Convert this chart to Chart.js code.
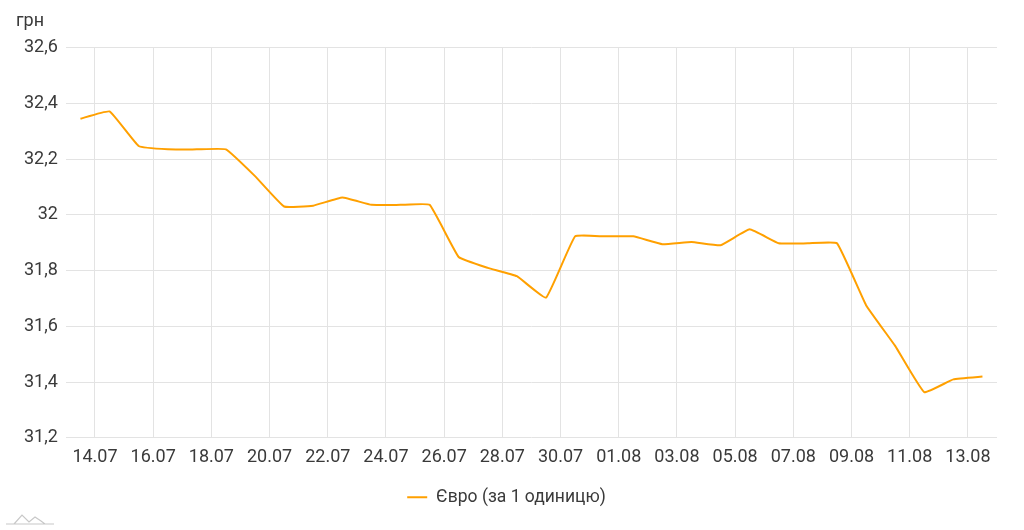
<!DOCTYPE html>
<html lang="uk">
<head>
<meta charset="utf-8">
<title>Курс євро</title>
<script src="https://cdn.jsdelivr.net/npm/chart.js@4.4.1/dist/chart.umd.min.js"></script>
<style>
  html, body { margin: 0; padding: 0; background: #fff; }
  #wrap { position: relative; width: 1024px; height: 530px; }
  #logo { position: absolute; left: 5px; bottom: 4px; }
</style>
</head>
<body>
<div id="wrap">
  <canvas id="rateChart" width="1024" height="530"></canvas>
  <svg id="logo" width="50" height="14" viewBox="0 0 50 14">
    <path d="M1 12 H49 M9 12 L17 3 L24 10 L30 5 L36 9 L40 12" fill="none" stroke="#c8c8c8" stroke-width="1.2"/>
  </svg>
</div>
<script>
// ---------- DATA ----------
const dates = [
  "13.07", "14.07", "15.07", "16.07", "17.07", "18.07", "19.07", "20.07",
  "21.07", "22.07", "23.07", "24.07", "25.07", "26.07", "27.07", "28.07",
  "29.07", "30.07", "31.07", "01.08", "02.08", "03.08", "04.08", "05.08",
  "06.08", "07.08", "08.08", "09.08", "10.08", "11.08", "12.08", "13.08"
];
const euroRates = [
  32.345, 32.371, 32.247, 32.235, 32.235, 32.235, 32.139, 32.030,
  32.033, 32.062, 32.036, 32.036, 32.036, 31.849, 31.810, 31.780,
  31.703, 31.923, 31.923, 31.923, 31.895, 31.903, 31.891, 31.948,
  31.898, 31.898, 31.898, 31.676, 31.530, 31.364, 31.410, 31.420
];
const yTicks = [31.2, 31.4, 31.6, 31.8, 32, 32.2, 32.4, 32.6];
const seriesName = "Євро (за 1 одиницю)";
const unitLabel = "грн";

const textColor = "#3a3a3a";
const gridColor = "#e3e3e3";
const lineColor = "#ffa000";

Chart.defaults.font.family = "Roboto, 'Noto Sans', sans-serif";
Chart.defaults.font.size = 18;
Chart.defaults.color = textColor;

// ---------- CHART ----------
const points = euroRates.map((v, i) => ({ x: i, y: v }));

new Chart(document.getElementById("rateChart"), {
  type: "line",
  data: {
    datasets: [{
      label: seriesName,
      data: points,
      borderColor: lineColor,
      backgroundColor: lineColor,
      borderWidth: 2,
      pointRadius: 0,
      tension: 0.1,
      fill: false
    }]
  },
  options: {
    responsive: false,
    animation: false,
    layout: { padding: { left: 16, right: 27, top: 0, bottom: 14 } },
    plugins: {
      title: {
        display: true,
        text: unitLabel,
        align: "start",
        color: textColor,
        font: { size: 18, weight: "normal" },
        padding: { top: 11, bottom: 15 }
      },
      legend: {
        position: "bottom",
        labels: {
          usePointStyle: true,
          pointStyle: "line",
          pointStyleWidth: 20,
          color: textColor,
          font: { size: 17.5 },
          padding: 11
        }
      },
      tooltip: { enabled: false }
    },
    scales: {
      x: {
        type: "linear",
        min: -0.5,
        max: dates.length - 0.5,
        border: { display: false },
        grid: { color: gridColor, drawTicks: false },
        afterBuildTicks: (scale) => {
          // label every second day, placed at the start of that day
          scale.ticks = dates
            .map((d, i) => i)
            .filter(i => i % 2 === 1)
            .map(i => ({ value: i - 0.5 }));
        },
        ticks: {
          padding: 9,
          maxRotation: 0,
          autoSkip: false,
          callback: (v) => dates[Math.round(v + 0.5)]
        }
      },
      y: {
        min: yTicks[0],
        max: yTicks[yTicks.length - 1],
        border: { display: false },
        grid: { color: gridColor, drawTicks: false },
        afterBuildTicks: (scale) => {
          scale.ticks = yTicks.map(v => ({ value: v }));
        },
        ticks: {
          padding: 8,
          callback: (v) => String(Number(v.toFixed(1))).replace(".", ",")
        }
      }
    }
  }
});
</script>
</body>
</html>
